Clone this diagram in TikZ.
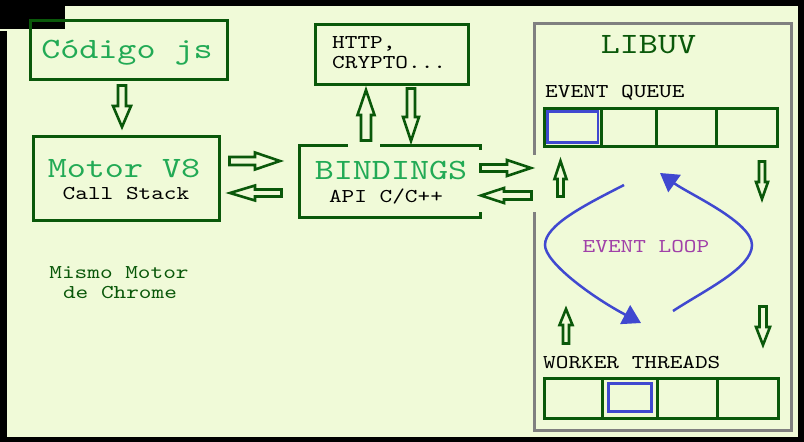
\documentclass[tikz,border=0pt]{standalone}
\usepackage{fontspec}
\setmainfont{lmmono10-regular.otf}[FakeStretch=1.23]
\usetikzlibrary{calc,arrows.meta}

\definecolor{fondo}{RGB}{240,250,216}
\definecolor{verde}{RGB}{10,88,10}
\definecolor{verdeclaro}{RGB}{34,170,85}
\definecolor{azul}{RGB}{64,72,208}
\definecolor{morado}{RGB}{160,64,168}
\definecolor{gris}{RGB}{128,128,128}

\begin{document}
\begin{tikzpicture}[x=1pt,y=-1pt,
  caja/.style={draw=verde,line width=3pt,inner sep=0pt},
  celda/.style={draw=verde,line width=3pt,inner sep=0pt},
  hueco/.style={draw=azul,line width=2.8pt,inner sep=0pt},
  grande/.style={inner sep=0pt,anchor=base,font=\fontsize{29.5}{35}\selectfont},
  chico/.style={inner sep=0pt,anchor=base,font=\fontsize{19.6}{24}\selectfont},
  flecha/.style n args={3}{draw=verde,line width=2.6pt,fill=fondo,
    to path={($(\tikztostart)!#1!90:(\tikztotarget)$)
      -- ($(\tikztotarget)!#3!(\tikztostart)!#1!90:(\tikztotarget)$)
      -- ($(\tikztotarget)!#3!(\tikztostart)!#2!90:(\tikztotarget)$)
      -- (\tikztotarget)
      -- ($(\tikztotarget)!#3!(\tikztostart)!#2!-90:(\tikztotarget)$)
      -- ($(\tikztotarget)!#3!(\tikztostart)!#1!-90:(\tikztotarget)$)
      -- ($(\tikztostart)!#1!-90:(\tikztotarget)$) -- cycle}},
  ciclo/.style={draw=azul,line width=2.5pt,-{Triangle[length=18pt,width=21pt]}}]
\useasboundingbox (0,0) rectangle (804,442);
% fondo y marco negro
\fill[black] (0,0) rectangle (804,442);
\fill[fondo] (0,6) rectangle (798,437);
\fill[black] (0,0) rectangle (65,29);
\fill[black] (0,31) rectangle (7,442);

% cajas de la izquierda
\node[caja,minimum width=197pt,minimum height=59pt] (codigo) at (129,50) {};
\node[grande,text=verdeclaro] (codigot) at (127,58) {Código js};
\node[caja,minimum width=186pt,minimum height=84pt] (motor) at (126,178.5) {};
\node[grande,text=verdeclaro] (motort) at (124,177) {Motor V8};
\node[chico] (motors) at (126,199) {Call Stack};
\node[chico,text=verde] (nota1) at (119,278) {Mismo Motor};
\node[chico,text=verde] (nota2) at (120,298) {de Chrome};

% bindings
\node[caja,minimum width=153pt,minimum height=60pt] (http) at (392,54.5) {};
\node[chico,anchor=base west] (http1) at (332,48) {HTTP,};
\node[chico,anchor=base west] (http2) at (332,68) {CRYPTO...};
\node[caja,minimum width=181pt,minimum height=72pt] (bind) at (389.5,181.5) {};
\node[grande,text=verdeclaro] (bindt) at (391,179) {BINDINGS};
\node[chico] (binds) at (386,202) {API C/C++};

% libuv
\node[draw=gris,line width=3pt,inner sep=0pt,minimum width=257.5pt,minimum height=407pt] (libuv) at (662.75,226.5) {};
\node[grande,text=verde] (libuvt) at (648.5,53) {LIBUV};
\node[chico,anchor=base west] (colat) at (545,97) {EVENT QUEUE};
\foreach \i/\a/\b in {1/544/601.5,2/601.5/656.5,3/656.5/716.5,4/716.5/777.5}
  \node[celda,minimum width={(\b-\a)*1pt},minimum height=38.5pt] (cola\i) at ({(\a+\b)/2},127.25) {};
\node[hueco,minimum width=50.5pt,minimum height=31pt] (colab) at (cola1) {};
\node[chico,anchor=base west] (hilost) at (543,368) {WORKER THREADS};
\foreach \i/\a/\b in {1/544/602.5,2/602.5/657.5,3/657.5/717.5,4/717.5/778.5}
  \node[celda,minimum width={(\b-\a)*1pt},minimum height=40pt] (hilo\i) at ({(\a+\b)/2},398.5) {};
\node[hueco,minimum width=43pt,minimum height=28pt] (hilob) at (630,397.5) {};
\node[chico,text=morado] (buclet) at (646,252) {EVENT LOOP};

% huecos bajo las flechas
\fill[fondo] (348,142) rectangle (380,149);
\fill[fondo] (476,150) rectangle (484,212);
\fill[fondo] (531,155) rectangle (537,212);

% flechas huecas
\coordinate (a1) at (122,85.5);   \coordinate (a2) at (122,127);
\coordinate (b1) at (229.5,161);  \coordinate (b2) at (280,161);
\coordinate (c1) at (281.5,193);  \coordinate (c2) at (230,193);
\coordinate (d1) at (366,140.5);  \coordinate (d2) at (366,90);
\coordinate (e1) at (411,88.5);   \coordinate (e2) at (411,141);
\coordinate (f1) at (480.5,168);  \coordinate (f2) at (531,168);
\coordinate (g1) at (531.5,195.5); \coordinate (g2) at (481,195.5);
\coordinate (h1) at (560.5,196.5); \coordinate (h2) at (560.5,161);
\coordinate (i1) at (762,161.5);  \coordinate (i2) at (762,199);
\coordinate (j1) at (566,343.5);  \coordinate (j2) at (566,309);
\coordinate (k1) at (763,306.5);  \coordinate (k2) at (763,345);
\draw[flecha={4pt}{9pt}{21pt}] (a1) to (a2);
\draw[flecha={4pt}{8.5pt}{25pt}] (b1) to (b2);
\draw[flecha={3.5pt}{7.5pt}{25pt}] (c1) to (c2);
\draw[flecha={5pt}{8.5pt}{25pt}] (d1) to (d2);
\draw[flecha={4pt}{8pt}{24pt}] (e1) to (e2);
\draw[flecha={3.5pt}{8pt}{24pt}] (f1) to (f2);
\draw[flecha={4pt}{7.5pt}{23pt}] (g1) to (g2);
\draw[flecha={3pt}{6pt}{18pt}] (h1) to (h2);
\draw[flecha={3pt}{6pt}{17pt}] (i1) to (i2);
\draw[flecha={3pt}{6.5pt}{16pt}] (j1) to (j2);
\draw[flecha={3.5pt}{7pt}{18pt}] (k1) to (k2);

% event loop
\draw[ciclo] (624,185) .. controls (585,205) and (545,225) .. (545,245)
  .. controls (545,262) and (590,296) .. (641,323);
\draw[ciclo] (673,311) .. controls (705,290) and (752,268) .. (752,245)
  .. controls (752,222) and (689,194) .. (660,173);
\end{tikzpicture}
\end{document}
